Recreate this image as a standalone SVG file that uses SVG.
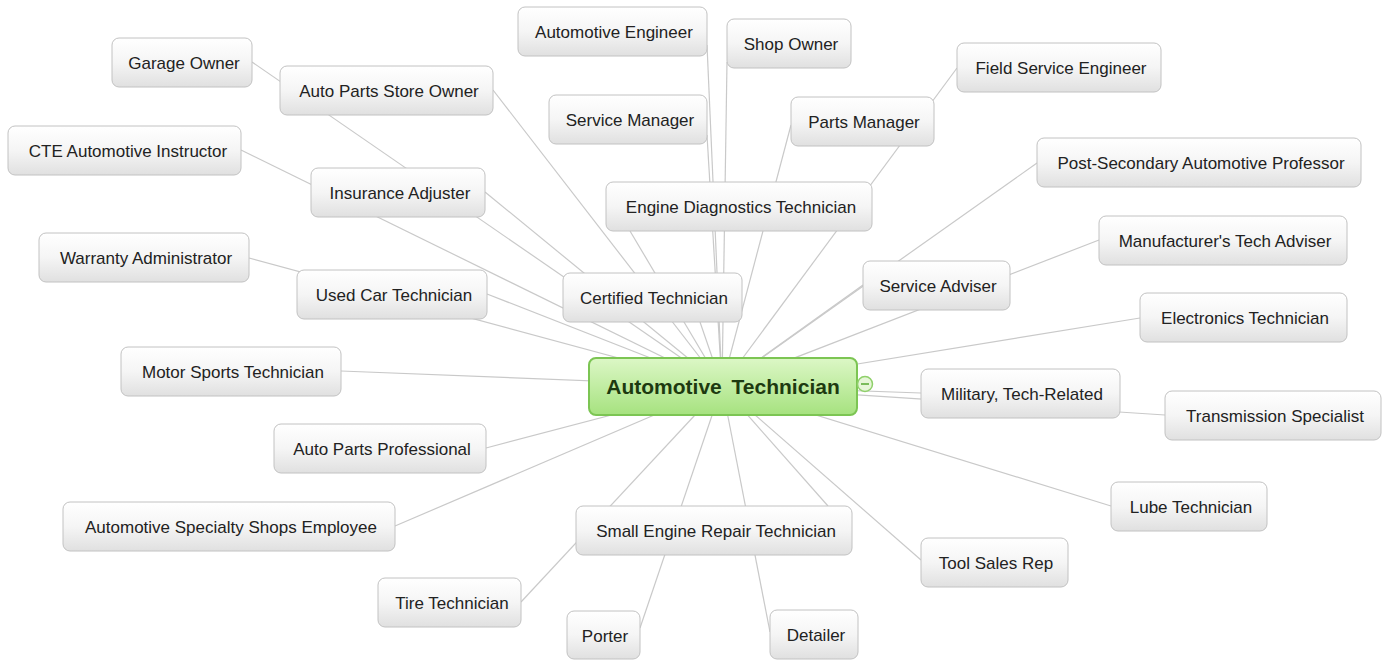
<svg xmlns="http://www.w3.org/2000/svg" width="1387" height="660" viewBox="0 0 1387 660">
<defs>
<linearGradient id="gNode" x1="0" y1="0" x2="0" y2="1">
<stop offset="0" stop-color="#ffffff"/>
<stop offset="0.5" stop-color="#f5f5f5"/>
<stop offset="1" stop-color="#e0e0e0"/>
</linearGradient>
<linearGradient id="gRoot" x1="0" y1="0" x2="0" y2="1">
<stop offset="0" stop-color="#dcf7c6"/>
<stop offset="1" stop-color="#a6e27f"/>
</linearGradient>
</defs>
<style>
.bg{fill:#ffffff}
.c line{stroke:#c9c9c9;stroke-width:1.2}
.n rect{fill:url(#gNode);stroke:#c2c2c2;stroke-width:1}
.n text{font-family:"Liberation Sans",Arial,sans-serif;font-size:17px;fill:#222222;text-anchor:middle}
.root rect{fill:url(#gRoot);stroke:#7cc553;stroke-width:2}
.root text{font-family:"Liberation Sans",Arial,sans-serif;font-size:21px;font-weight:bold;fill:#1d3a10;text-anchor:middle}
</style>
<rect class="bg" x="0" y="0" width="1387" height="660"/>
<g id="connectors" class="c">
<line x1="252" y1="62" x2="722" y2="386"/>
<line x1="493" y1="90" x2="722" y2="386"/>
<line x1="241" y1="150" x2="722" y2="386"/>
<line x1="485" y1="192" x2="722" y2="386"/>
<line x1="249" y1="258" x2="722" y2="386"/>
<line x1="487" y1="294" x2="722" y2="386"/>
<line x1="341" y1="371" x2="722" y2="386"/>
<line x1="486" y1="448" x2="722" y2="386"/>
<line x1="395" y1="526" x2="722" y2="386"/>
<line x1="521" y1="602" x2="722" y2="386"/>
<line x1="640" y1="628" x2="722" y2="386"/>
<line x1="828" y1="506" x2="722" y2="386"/>
<line x1="770" y1="632" x2="722" y2="386"/>
<line x1="921" y1="560" x2="722" y2="386"/>
<line x1="1111" y1="506" x2="722" y2="386"/>
<line x1="1165" y1="415" x2="722" y2="386"/>
<line x1="921" y1="393" x2="722" y2="386"/>
<line x1="1140" y1="318" x2="722" y2="386"/>
<line x1="1099" y1="240" x2="722" y2="386"/>
<line x1="1037" y1="163" x2="722" y2="386"/>
<line x1="863" y1="285" x2="722" y2="386"/>
<line x1="957" y1="68" x2="722" y2="386"/>
<line x1="791" y1="125" x2="722" y2="386"/>
<line x1="727" y1="62" x2="722" y2="386"/>
<line x1="707" y1="45" x2="722" y2="386"/>
<line x1="707" y1="135" x2="722" y2="386"/>
<line x1="630" y1="231" x2="722" y2="386"/>
<line x1="700" y1="322" x2="722" y2="386"/>
</g>
<g id="n-garage-owner" class="n"><rect x="112" y="38" width="140" height="49" rx="7"/><text x="184" y="68.5">Garage Owner</text></g>
<g id="n-auto-parts-store-owner" class="n"><rect x="280" y="66" width="213" height="49" rx="7"/><text x="389" y="96.5">Auto Parts Store Owner</text></g>
<g id="n-cte-instructor" class="n"><rect x="8" y="126" width="233" height="49" rx="7"/><text x="128" y="156.5">CTE Automotive Instructor</text></g>
<g id="n-insurance-adjuster" class="n"><rect x="311" y="168" width="174" height="49" rx="7"/><text x="400" y="198.5">Insurance Adjuster</text></g>
<g id="n-warranty-administrator" class="n"><rect x="39" y="233" width="210" height="49" rx="7"/><text x="146" y="263.5">Warranty Administrator</text></g>
<g id="n-used-car-technician" class="n"><rect x="297" y="270" width="190" height="49" rx="7"/><text x="394" y="300.5">Used Car Technician</text></g>
<g id="n-motor-sports-technician" class="n"><rect x="121" y="347" width="220" height="49" rx="7"/><text x="233" y="377.5">Motor Sports Technician</text></g>
<g id="n-auto-parts-professional" class="n"><rect x="274" y="424" width="212" height="49" rx="7"/><text x="382" y="454.5">Auto Parts Professional</text></g>
<g id="n-specialty-shops-employee" class="n"><rect x="63" y="502" width="332" height="49" rx="7"/><text x="231" y="532.5">Automotive Specialty Shops Employee</text></g>
<g id="n-tire-technician" class="n"><rect x="378" y="578" width="143" height="49" rx="7"/><text x="452" y="608.5">Tire Technician</text></g>
<g id="n-porter" class="n"><rect x="567" y="611" width="73" height="48" rx="7"/><text x="605" y="641.5">Porter</text></g>
<g id="n-small-engine-repair" class="n"><rect x="576" y="506" width="276" height="49" rx="7"/><text x="716" y="536.5">Small Engine Repair Technician</text></g>
<g id="n-detailer" class="n"><rect x="770" y="610" width="88" height="49" rx="7"/><text x="816" y="640.5">Detailer</text></g>
<g id="n-tool-sales-rep" class="n"><rect x="921" y="538" width="147" height="49" rx="7"/><text x="996" y="568.5">Tool Sales Rep</text></g>
<g id="n-lube-technician" class="n"><rect x="1111" y="482" width="156" height="49" rx="7"/><text x="1191" y="512.5">Lube Technician</text></g>
<g id="n-transmission-specialist" class="n"><rect x="1165" y="391" width="216" height="49" rx="7"/><text x="1275" y="421.5">Transmission Specialist</text></g>
<g id="n-military" class="n"><rect x="921" y="369" width="199" height="49" rx="7"/><text x="1022" y="399.5">Military, Tech-Related</text></g>
<g id="n-electronics-technician" class="n"><rect x="1140" y="293" width="207" height="49" rx="7"/><text x="1245" y="323.5">Electronics Technician</text></g>
<g id="n-manufacturers-tech-adviser" class="n"><rect x="1099" y="216" width="248" height="49" rx="7"/><text x="1225" y="246.5">Manufacturer's Tech Adviser</text></g>
<g id="n-post-secondary-professor" class="n"><rect x="1037" y="138" width="324" height="49" rx="7"/><text x="1201" y="168.5">Post-Secondary Automotive Professor</text></g>
<g id="n-service-adviser" class="n"><rect x="863" y="261" width="147" height="49" rx="7"/><text x="938" y="291.5">Service Adviser</text></g>
<g id="n-field-service-engineer" class="n"><rect x="957" y="43" width="204" height="49" rx="7"/><text x="1061" y="73.5">Field Service Engineer</text></g>
<g id="n-parts-manager" class="n"><rect x="791" y="97" width="143" height="49" rx="7"/><text x="864" y="127.5">Parts Manager</text></g>
<g id="n-shop-owner" class="n"><rect x="727" y="19" width="124" height="49" rx="7"/><text x="791" y="49.5">Shop Owner</text></g>
<g id="n-automotive-engineer" class="n"><rect x="518" y="7" width="189" height="49" rx="7"/><text x="614" y="37.5">Automotive Engineer</text></g>
<g id="n-service-manager" class="n"><rect x="549" y="95" width="158" height="49" rx="7"/><text x="630" y="125.5">Service Manager</text></g>
<g id="n-engine-diagnostics" class="n"><rect x="606" y="182" width="266" height="49" rx="7"/><text x="741" y="212.5">Engine Diagnostics Technician</text></g>
<g id="n-certified-technician" class="n"><rect x="563" y="273" width="179" height="49" rx="7"/><text x="654" y="303.5">Certified Technician</text></g>
<g id="n-root" class="root"><rect x="589" y="358" width="268" height="57" rx="7"/><text x="723" y="394" word-spacing="4">Automotive Technician</text>
<circle cx="865" cy="384" r="7.5" fill="#e6f6d8" stroke="#8fd06a" stroke-width="1.5"/><line x1="861" y1="384" x2="869" y2="384" stroke="#5fae3c" stroke-width="1.6"/></g>
</svg>
